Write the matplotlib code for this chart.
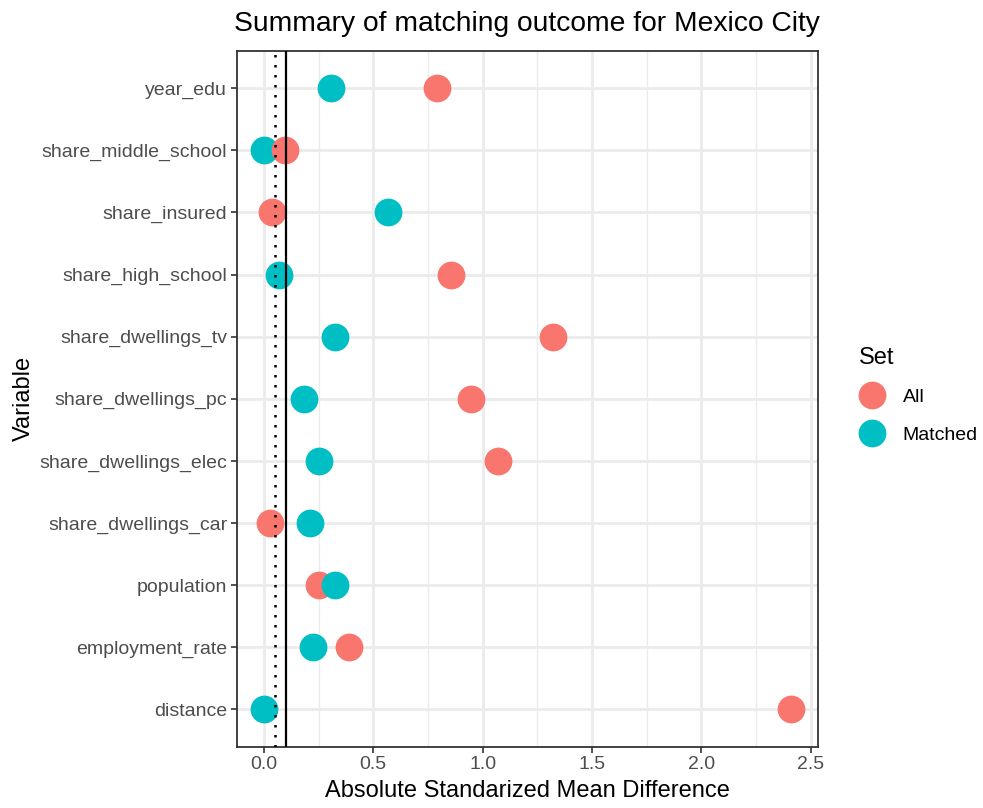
import numpy as np
import matplotlib
matplotlib.use('Agg')
import matplotlib.pyplot as plt
from matplotlib.lines import Line2D

plt.rcParams['font.family'] = ['Liberation Sans', 'DejaVu Sans']

# variables listed bottom to top
variables = ['distance', 'employment_rate', 'population', 'share_dwellings_car',
             'share_dwellings_elec', 'share_dwellings_pc', 'share_dwellings_tv',
             'share_high_school', 'share_insured', 'share_middle_school', 'year_edu']
smd_all = [2.41, 0.388, 0.252, 0.027, 1.07, 0.948, 1.322, 0.856, 0.038, 0.098, 0.792]
smd_matched = [0.001, 0.224, 0.326, 0.21, 0.25, 0.183, 0.326, 0.07, 0.568, 0.0, 0.305]
# which set is drawn last (on top) in each row
top_set = ['Matched', 'Matched', 'Matched', 'Matched', 'Matched', 'Matched',
           'Matched', 'Matched', 'Matched', 'All', 'Matched']
thresholds = [0.05, 0.1]

col_all = '#F8766D'
col_matched = '#00BFC4'

fig = plt.figure(figsize=(9.83, 8.08), dpi=100)
ax = fig.add_axes([0.241, 0.076, 0.591, 0.861])

ypos = np.arange(len(variables))
for i, var in enumerate(variables):
    z_all = 4 if top_set[i] == 'All' else 3
    z_mat = 7 - z_all
    ax.scatter(smd_all[i], ypos[i], s=400, color=col_all, zorder=z_all, linewidths=0)
    ax.scatter(smd_matched[i], ypos[i], s=400, color=col_matched, zorder=z_mat, linewidths=0)

ax.axvline(thresholds[0], color='black', linestyle=(0, (1, 3)), lw=1.8, zorder=5)
ax.axvline(thresholds[1], color='black', linestyle='-', lw=1.6, zorder=5)

ax.set_xlim(-0.123, 2.532)
ax.set_ylim(-0.6, len(variables) - 0.4)
ax.set_yticks(ypos)
ax.set_yticklabels(variables)
ax.set_xticks([0, 0.5, 1.0, 1.5, 2.0, 2.5])
ax.set_xticklabels(['0.0', '0.5', '1.0', '1.5', '2.0', '2.5'])
ax.set_xticks([0.25, 0.75, 1.25, 1.75, 2.25], minor=True)

ax.grid(True, which='major', color='#EBEBEB', lw=2.0, zorder=0)
ax.grid(True, which='minor', axis='x', color='#EBEBEB', lw=1.0, zorder=0)
ax.set_axisbelow(True)
for sp in ax.spines.values():
    sp.set_color('#333333')
    sp.set_linewidth(1.3)
ax.tick_params(which='major', length=4, width=1.2, color='#333333',
               labelcolor='#4D4D4D', labelsize=14, pad=3)
ax.tick_params(which='minor', length=0)

ax.set_xlabel('Absolute Standarized Mean Difference', fontsize=17, color='black', labelpad=5)
ax.set_ylabel('Variable', fontsize=17, color='black', labelpad=3)
ax.set_title('Summary of matching outcome for Mexico City', fontsize=20.3, pad=14)

handles = [Line2D([], [], marker='o', linestyle='', markersize=20, color=col_all, markeredgewidth=0),
           Line2D([], [], marker='o', linestyle='', markersize=20, color=col_matched, markeredgewidth=0)]
leg = fig.legend(handles, ['All', 'Matched'], title='Set', loc='upper left',
                 bbox_to_anchor=(0.866, 0.58), frameon=False, fontsize=14,
                 title_fontsize=17, handletextpad=0.95, labelspacing=1.05,
                 borderaxespad=0, handlelength=1.3)
leg._legend_box.align = 'left'
leg._legend_box.sep = 14

fig.savefig('out.png', dpi=100)
